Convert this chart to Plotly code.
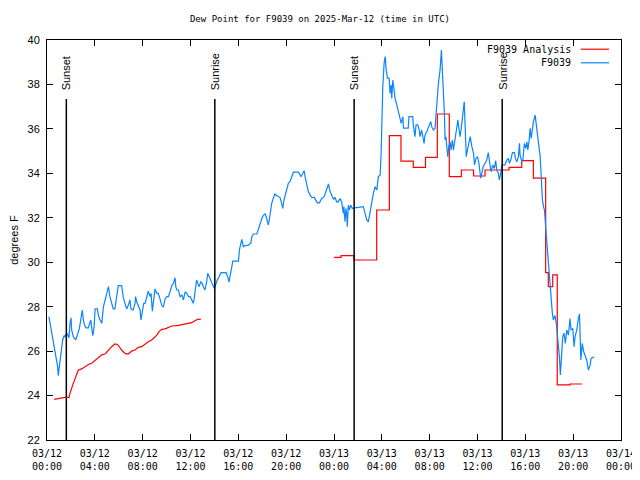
import pandas as pd
import plotly.graph_objects as go

BASE = pd.Timestamp("2025-03-12 00:00")

# Observed dew point (F9039): hours since 03/12 00:00 UTC, degrees F
obs_hours = [
    0.16, 0.24, 0.39, 0.52, 0.66, 0.75, 0.89, 0.94, 1.02, 1.11, 1.23, 1.31, 1.44, 1.50, 1.67, 1.84,
    1.92, 2.01, 2.06, 2.20, 2.40, 2.57, 2.70, 2.85, 2.95, 3.04, 3.12, 3.26, 3.46, 3.54, 3.66, 3.74,
    3.83, 3.94, 4.02, 4.21, 4.30, 4.44, 4.58, 4.72, 4.86, 5.00, 5.14, 5.26, 5.40, 5.54, 5.68, 5.82,
    5.96, 6.24, 6.37, 6.52, 6.66, 6.79, 6.94, 7.02, 7.21, 7.36, 7.41, 7.50, 7.63, 7.78, 7.86, 7.97,
    8.09, 8.20, 8.34, 8.47, 8.62, 8.70, 8.81, 8.93, 9.03, 9.18, 9.31, 9.45, 9.60, 9.73, 9.87, 10.02,
    10.15, 10.29, 10.44, 10.57, 10.71, 10.77, 10.86, 10.99, 11.13, 11.28, 11.41, 11.55, 11.69, 11.83,
    11.97, 12.11, 12.23, 12.31, 12.43, 12.51, 12.65, 12.73, 12.85, 12.98, 13.07, 13.21, 13.35, 13.44,
    13.57, 13.71, 13.86, 13.99, 14.11, 14.24, 14.39, 14.55, 14.97, 15.12, 15.22, 15.33, 15.45, 15.54,
    16.01, 16.09, 16.21, 16.29, 16.42, 16.57, 16.84, 17.05, 17.13, 17.26, 17.55, 17.68, 17.83, 17.97,
    18.10, 18.25, 18.37, 18.50, 18.59, 18.70, 18.79, 18.92, 19.06, 19.26, 19.48, 19.62, 19.71, 19.82,
    19.90, 19.99, 20.10, 20.18, 20.32, 20.47, 20.60, 21.02, 21.16, 21.25, 21.39, 21.50, 21.58, 21.72,
    21.86, 22.00, 22.14, 22.34, 22.50, 22.61, 22.78, 22.98, 23.18, 23.34, 23.45, 23.54, 23.68, 23.82,
    23.96, 24.08, 24.22, 24.36, 24.50, 24.64, 24.78, 24.83, 24.92, 25.00, 25.06, 25.11, 25.20, 25.28,
    25.40, 25.53, 25.67, 26.03, 26.45, 26.74, 26.87, 27.02, 27.16, 27.29, 27.44, 27.58, 27.71, 27.86,
    27.94, 28.00, 28.08, 28.19, 28.28, 28.36, 28.47, 28.61, 28.69, 28.78, 28.83, 28.92, 28.97, 29.11,
    29.25, 29.39, 29.53, 29.62, 29.76, 29.81, 30.21, 30.27, 30.58, 30.63, 30.77, 30.86, 31.00, 31.13,
    31.19, 31.33, 31.53, 31.61, 31.75, 31.89, 32.09, 32.17, 32.31, 32.45, 32.59, 32.73, 32.87, 32.98,
    33.06, 33.15, 33.23, 33.29, 33.37, 33.43, 33.52, 33.60, 33.71, 33.79, 33.90, 33.99, 34.13, 34.27,
    34.36, 34.46, 34.55, 34.69, 34.78, 34.89, 34.97, 35.06, 35.16, 35.30, 35.39, 35.53, 35.67, 35.75,
    35.87, 36.00, 36.12, 36.27, 36.35, 36.48, 36.63, 36.77, 36.90, 36.99, 37.13, 37.27, 37.41, 37.52,
    37.61, 37.74, 37.83, 37.94, 38.05, 38.30, 38.45, 38.58, 38.67, 38.78, 38.92, 39.09, 39.17, 39.29,
    39.42, 39.51, 39.56, 39.71, 39.79, 39.92, 40.04, 40.13, 40.21, 40.32, 40.40, 40.49, 40.60, 40.68,
    40.82, 40.91, 41.02, 41.16, 41.24, 41.30, 41.38, 41.43, 41.52, 41.60, 41.72, 41.80, 41.89, 41.97,
    42.06, 42.15, 42.26, 42.34, 42.48, 42.59, 42.68, 42.76, 42.85, 42.93, 43.05, 43.13, 43.24, 43.35,
    43.46, 43.60, 43.74, 43.82, 43.97, 44.08, 44.16, 44.30, 44.44, 44.53, 44.64, 44.76, 44.88, 45.02,
    45.13, 45.27, 45.42, 45.50, 45.75,
]
obs_values = [
    27.55, 27.3, 26.9, 26.6, 26.05, 25.75, 25.3, 24.9, 25.3, 25.8, 26.2, 26.5, 26.7, 26.65, 26.8, 26.6,
    27.25, 27.5, 26.95, 26.65, 26.5, 26.75, 27.0, 27.5, 27.85, 27.4, 27.2, 27.05, 27.05, 27.2, 27.4, 27.05,
    26.7, 27.1, 27.9, 27.9, 27.6, 27.4, 27.25, 28.0, 28.3, 28.5, 28.9, 28.45, 28.15, 27.9, 27.9, 28.45,
    28.95, 28.95, 28.45, 28.15, 27.9, 28.05, 28.3, 27.9, 27.85, 28.15, 28.45, 28.22, 28.0, 27.85, 27.4, 27.85,
    28.15, 28.15, 28.45, 28.7, 28.45, 28.6, 27.8, 28.45, 28.8, 28.6, 28.6, 28.35, 28.05, 27.98, 28.35, 28.45,
    28.45, 28.67, 28.95, 29.05, 29.3, 28.9, 28.75, 28.75, 28.45, 28.52, 28.3, 28.67, 28.6, 28.45,
    28.45, 28.3, 28.15, 28.37, 29.05, 29.2, 28.97, 28.9, 29.12, 29.05, 28.9, 28.75, 29.12, 29.5,
    29.35, 29.12, 28.97, 28.83, 29.05, 29.2, 29.35, 29.53, 29.53, 29.35, 29.1, 29.4, 29.7, 30.05,
    30.05, 30.55, 30.85, 31.03, 30.7, 30.75, 30.77, 30.87, 31.15, 31.27, 31.27, 31.52, 31.75, 31.97,
    32.12, 32.17, 31.97, 31.68, 31.9, 32.42, 32.65, 32.87, 33.07, 32.98, 32.92, 32.65, 32.42, 32.8,
    32.95, 33.17, 33.32, 33.55, 33.62, 33.88, 34.05, 34.05, 33.93, 33.85, 34.0, 34.12, 33.85, 33.47,
    33.17, 33.02, 32.92, 32.92, 32.8, 32.67, 32.67, 32.87, 32.95, 33.17, 33.4, 33.52, 33.17, 32.95,
    32.83, 32.92, 32.72, 32.72, 32.87, 32.72, 32.2, 32.5, 31.82, 32.42, 32.2, 31.6, 32.57, 32.35,
    32.57, 32.42, 32.45, 32.47, 32.5, 31.9, 31.82, 32.25, 32.8, 33.1, 33.4, 33.25, 33.85, 33.92,
    34.9, 36.25, 37.9, 38.95, 39.25, 38.7, 38.28, 38.28, 37.6, 37.97, 37.37, 38.2, 37.97, 37.37,
    37.08, 36.77, 36.48, 36.25, 36.55, 36.03, 36.03, 36.55, 36.55, 36.18, 35.65, 36.18, 36.18, 35.95,
    35.65, 35.95, 35.35, 35.72, 35.87, 36.03, 36.33, 36.1, 35.95, 36.03, 37.3, 38.05, 38.65, 39.55,
    38.65, 37.75, 36.7, 35.5, 35.65, 35.2, 34.75, 35.2, 35.42, 35.05, 35.5, 35.05, 35.5, 35.95,
    36.4, 35.95, 35.65, 36.25, 36.77, 37.22, 36.1, 34.75, 35.05, 35.35, 35.65, 35.2, 34.9, 34.38,
    34.67, 34.75, 34.45, 33.78, 34.0, 34.3, 34.45, 34.6, 34.93, 34.6, 34.07, 34.37, 34.22, 34.57,
    34.15, 34.0, 33.7, 34.0, 34.38, 34.38, 34.6, 34.67, 34.45, 34.6, 34.93, 34.93, 34.67, 34.52,
    34.75, 35.35, 34.82, 34.52, 34.6, 35.35, 35.12, 35.42, 35.05, 35.5, 36.03, 35.57, 36.03, 36.33,
    36.62, 36.25, 35.72, 35.12, 34.75, 34.15, 33.25, 32.8, 32.5, 32.35, 31.45, 30.85, 30.25, 29.65,
    29.05, 28.3, 27.7, 27.4, 27.6, 27.25, 26.8, 26.5, 25.75, 24.93, 25.9, 26.65, 26.8, 26.35,
    26.95, 26.72, 27.47, 26.95, 27.02, 26.2, 26.65, 26.95, 27.47, 27.67, 25.6, 26.35, 25.97, 25.75,
    25.6, 25.15, 25.37, 25.67, 25.75,
]

# Analysis (F9039 Analysis), first run: hours, degrees F
ana1_hours = [0.60, 1.08, 1.50, 1.84, 1.92, 2.20, 2.48, 2.62, 2.90, 3.18, 3.46, 3.74, 4.02, 4.30,
              4.58, 4.86, 5.12, 5.40, 5.68, 5.90, 6.24, 6.52, 6.79, 7.08, 7.36, 7.63, 7.92, 8.20,
              8.47, 8.76, 9.18, 9.37, 9.60, 9.87, 10.44, 10.99, 11.55, 12.09, 12.37, 12.60, 12.87]
ana1_values = [23.83, 23.88, 23.92, 23.92, 24.1, 24.55, 24.97, 25.15, 25.2, 25.3, 25.4, 25.45, 25.57, 25.68,
               25.83, 25.87, 26.05, 26.2, 26.32, 26.3, 26.05, 25.9, 25.87, 26.0, 26.05, 26.17, 26.2, 26.32,
               26.42, 26.5, 26.72, 26.88, 26.98, 27.0, 27.13, 27.16, 27.22, 27.28, 27.37, 27.43, 27.44]

# Analysis, second run (stepped hourly values)
ana2_hours = [24.00, 24.59, 25.67, 27.57, 28.63, 29.60, 30.63, 31.65, 32.64, 33.64, 34.65, 35.67,
              36.63, 38.64, 39.70, 40.67, 41.70, 41.92, 42.29, 42.67, 43.74, 44.74]
ana2_values = [30.22, 30.3, 30.1, 32.35, 35.7, 34.55, 34.27, 34.72, 36.67, 33.85, 34.15, 33.88,
               34.15, 34.27, 34.57, 33.78, 29.53, 28.9, 29.43, 24.48, 24.52, 24.52]

# Sun events
sun_labels = ["Sunset", "Sunrise", "Sunset", "Sunrise"]
sun_times = ["2025-03-12 01:37", "2025-03-12 14:02", "2025-03-13 01:41", "2025-03-13 14:04"]

x_tick_times = pd.date_range("2025-03-12 00:00", "2025-03-14 00:00", freq="4h")


def to_time(hours):
    return BASE + pd.to_timedelta(hours, unit="h")


FONT = "DejaVu Sans Mono"
BLUE = "#0a84ff"
RED = "#ff0000"

# page body has an 8px margin; figure is sized so the plot lands where the reference has it
W, H = 632, 472

fig = go.Figure()
fig.add_trace(go.Scatter(x=to_time(ana1_hours), y=ana1_values, mode="lines",
                         line=dict(color=RED, width=1.2), name="F9039 Analysis", showlegend=False))
fig.add_trace(go.Scatter(x=to_time(ana2_hours), y=ana2_values, mode="lines",
                         line=dict(color=RED, width=1.2, shape="hv"), name="F9039 Analysis",
                         showlegend=False))
fig.add_trace(go.Scatter(x=to_time(obs_hours), y=obs_values, mode="lines",
                         line=dict(color=BLUE, width=1.2), name="F9039", showlegend=False))

for lab, t in zip(sun_labels, sun_times):
    fig.add_shape(type="line", x0=t, x1=t, xref="x", y0=0, y1=0.8525, yref="y domain",
                  line=dict(color="black", width=1.5))
    fig.add_annotation(x=t, xref="x", y=0.87, yref="y domain", text=lab, textangle=-90,
                       showarrow=False, xanchor="center", yanchor="bottom",
                       font=dict(family="Liberation Sans", size=11, color="black"))

# legend (gnuplot style: text then sample line)
leg = [("F9039 Analysis", RED, 0.977), ("F9039", BLUE, 0.943)]
for txt, col, yy in leg:
    fig.add_annotation(x=0.9164, xref="paper", y=yy, yref="paper", text=txt, showarrow=False,
                       xanchor="right", yanchor="middle", font=dict(family=FONT, size=10, color="black"))
    fig.add_shape(type="line", x0=0.930, x1=0.979, xref="paper", y0=yy, y1=yy, yref="paper",
                  line=dict(color=col, width=1.2))

fig.update_layout(
    width=W, height=H,
    margin=dict(l=39, r=19, t=32, b=40, autoexpand=False),
    paper_bgcolor="white", plot_bgcolor="white",
    title=dict(text="Dew Point for F9039 on 2025-Mar-12 (time in UTC)", x=312 / W, xref="container",
               xanchor="center", y=1 - 11 / H, yanchor="middle",
               font=dict(family=FONT, size=9, color="black")),
    xaxis=dict(range=[x_tick_times[0], x_tick_times[-1]], tickvals=x_tick_times,
               ticktext=[t.strftime("%m/%d<br>%H:%M") for t in x_tick_times],
               ticks="inside", ticklen=6, tickcolor="black", showline=True, linecolor="black",
               linewidth=1, mirror="allticks", showgrid=False, zeroline=False, automargin=False,
               ticklabelstandoff=4,
               tickfont=dict(family=FONT, size=10, color="black")),
    yaxis=dict(range=[22, 40], dtick=2, ticks="inside", ticklen=6, tickcolor="black",
               showline=True, linecolor="black", linewidth=1, mirror="allticks", showgrid=False,
               zeroline=False, automargin=False, ticklabelstandoff=4,
               tickfont=dict(family="Liberation Sans", size=11, color="black"),
               title=dict(text="degrees F", standoff=10,
                          font=dict(family="Liberation Sans", size=11, color="black"))),
)

fig.write_html("out.html")
